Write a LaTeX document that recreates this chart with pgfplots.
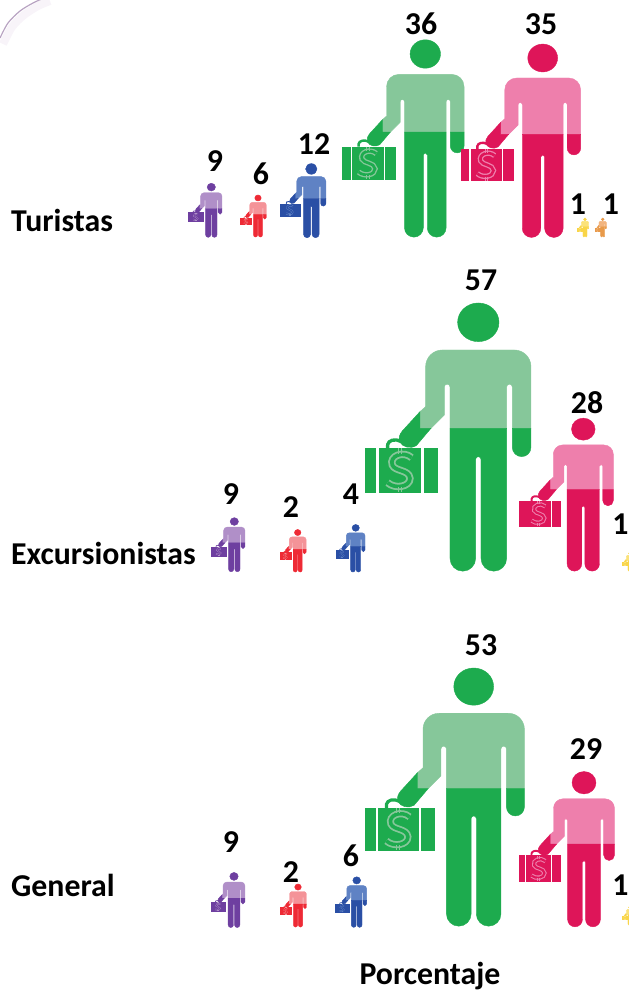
\documentclass[border=0pt]{standalone}
\usepackage{pgfplots}
\pgfplotsset{compat=1.18}
\usepackage{fontspec}
\setmainfont{Carlito}
\definecolor{gD}{HTML}{1DAB4E}\definecolor{gL}{HTML}{86C79A}
\definecolor{kD}{HTML}{DE1559}\definecolor{kL}{HTML}{EE7FAC}
\definecolor{bD}{HTML}{2A4FA5}\definecolor{bL}{HTML}{5F82C4}
\definecolor{pD}{HTML}{6E3FA0}\definecolor{pL}{HTML}{B08FC8}
\definecolor{rD}{HTML}{EE2A35}\definecolor{rL}{HTML}{F49398}
\definecolor{yD}{HTML}{F9D548}\definecolor{yL}{HTML}{FBE27A}
\definecolor{oD}{HTML}{E89A4A}\definecolor{oL}{HTML}{F2B47E}
\definecolor{arcC}{HTML}{B8A3C2}\definecolor{arcG}{HTML}{F8F4F9}
\newcommand\defperson[3]{%
\pgfdeclareplotmark{#1}{%
\pgfmathsetlengthmacro\uu{\pgfplotmarksize/803}%
\begin{scope}[x=\uu,y=\uu]
\fill[#3] (0,746) ellipse[x radius=62,y radius=58];
% upper body
\fill[#2] (-158,613) arc[start angle=180,end angle=90,radius=50] -- (108,663)
  arc[start angle=90,end angle=0,radius=50] -- (158,428) -- (102,428) -- (102,552)
  arc[start angle=0,end angle=180,radius=8.5] -- (85,428) -- (-85,428) -- (-85,552)
  arc[start angle=0,end angle=180,radius=8.5] -- (-102,468) -- (-142,428) -- (-175,428)
  -- (-175,478) -- (-158,493) -- cycle;
% legs
\fill[#3] (-85,428) -- (85,428) -- (85,38) arc[start angle=0,end angle=-180,radius=38.5]
  -- (8,335) arc[start angle=0,end angle=180,radius=8] -- (-8,38)
  arc[start angle=0,end angle=-180,radius=38.5] -- cycle;
% right hand
\fill[#3] (102,428) -- (158,428) -- (158,371) arc[start angle=0,end angle=-180,radius=28] -- cycle;
% left forearm
\fill[#3] (-175,478) -- (-175,428) -- (-142,428) -- (-186,376)
  .. controls (-205,365) and (-228,372) .. (-236,388) .. controls (-240,400) and (-236,410) .. (-228,420) -- cycle;
% suitcase
\fill[#3] (-338,368) rectangle (-308,236);
\fill[#3] (-298,368) rectangle (-173,236);
\fill[#3] (-163,368) rectangle (-123,236);
\draw[#3,line width=10*\uu] (-272,368) .. controls (-275,385) and (-265,395) .. (-245,393) -- (-205,380);
% dollar sign
\draw[#2,line width=22*\uu] (-200,340) .. controls (-225,362) and (-268,345) .. (-258,318)
  .. controls (-250,298) and (-208,305) .. (-205,278) .. controls (-205,252) and (-250,245) .. (-272,265);
\draw[#3,line width=11*\uu] (-200,340) .. controls (-225,362) and (-268,345) .. (-258,318)
  .. controls (-250,298) and (-208,305) .. (-205,278) .. controls (-205,252) and (-250,245) .. (-272,265);
\draw[#2,line width=3*\uu] (-230,368) -- (-230,352) (-240,368) -- (-240,352) (-230,252) -- (-230,236) (-240,252) -- (-240,236);
\end{scope}}}
\defperson{pGreen}{gL}{gD}
\defperson{pPink}{kL}{kD}
\defperson{pBlue}{bL}{bD}
\defperson{pPurple}{pL}{pD}
\defperson{pRed}{rL}{rD}
\defperson{pYellow}{yL}{yD}
\defperson{pOrange}{oL}{oD}
% x = body centre, y = feet, h = figure height (all in picture pixels)
\newcommand\persons[2]{\addplot[scatter,only marks,mark=#1,
  visualization depends on={\thisrow{h}\as\perpointmarksize},
  scatter/@pre marker code/.append style={/tikz/mark size=\perpointmarksize}]
  table[row sep=\\] {#2};}
\newcommand\lblfont{\fontsize{31.8}{31.8}\selectfont\bfseries}
\begin{document}
\begin{tikzpicture}
\useasboundingbox (0,0) rectangle (629pt,991pt);
\clip (0,0) rectangle (629pt,991pt);
\begin{axis}[at={(0,0)},anchor=south west,scale only axis,width=629pt,height=991pt,
  xmin=0,xmax=629,ymin=0,ymax=991,y dir=reverse,hide axis,clip=false]
\addplot[draw=arcG,line width=8pt,smooth] coordinates {(3,44)(12,27)(24,15)(38,6)(50,1)};
\addplot[draw=arcC,line width=1.2pt,smooth] coordinates {(0,38)(8,23)(20,11)(33,3)(44,-2)};
\persons{pGreen}{x y h\\
425.3 237 197\\
478.3 571 267.7\\
473.7 926 257.7\\}
\persons{pPink}{x y h\\
542.7 237.3 193\\
583.3 571 152.7\\
584 926.7 155\\}
\persons{pBlue}{x y h\\
311.3 237.7 74\\
355.7 572 47.5\\
356.7 927.3 50.5\\}
\persons{pPurple}{x y h\\
211.3 237.3 54\\
234.3 571.7 54\\
234 927.5 55\\}
\persons{pRed}{x y h\\
258 237 42\\
297.7 572 42.5\\
298 927 43\\}
\persons{pYellow}{x y h\\
585 237 19\\
630 571 19\\
630 925 19\\}
\persons{pOrange}{x y h\\
602.7 237 19\\}
\addplot[only marks,mark=none,point meta=explicit symbolic,
  nodes near coords={\lblfont\pgfplotspointmeta},
  nodes near coords align={anchor=center}]
  table[meta=v,row sep=\\] {x y v\\
421 24 36\\
541 24 35\\
215 161 9\\
261 174 6\\
314 144 12\\
578 204 1\\
611 204 1\\
481 280 57\\
587 403 28\\
231 494 9\\
291 507 2\\
351 494 4\\
620.5 524 1\\
481 645 53\\
586 749 29\\
231 842 9\\
291 872 2\\
351 856 6\\
620.5 885 1\\
};
\node[anchor=west,inner sep=0pt] at (axis cs:11,220) {\lblfont Turistas};
\node[anchor=west,inner sep=0pt] at (axis cs:11,553) {\lblfont Excursionistas};
\node[anchor=west,inner sep=0pt] at (axis cs:11,885) {\lblfont General};
\node[inner sep=0pt] at (axis cs:430,976) {\lblfont Porcentaje};
\end{axis}
\end{tikzpicture}
\end{document}
